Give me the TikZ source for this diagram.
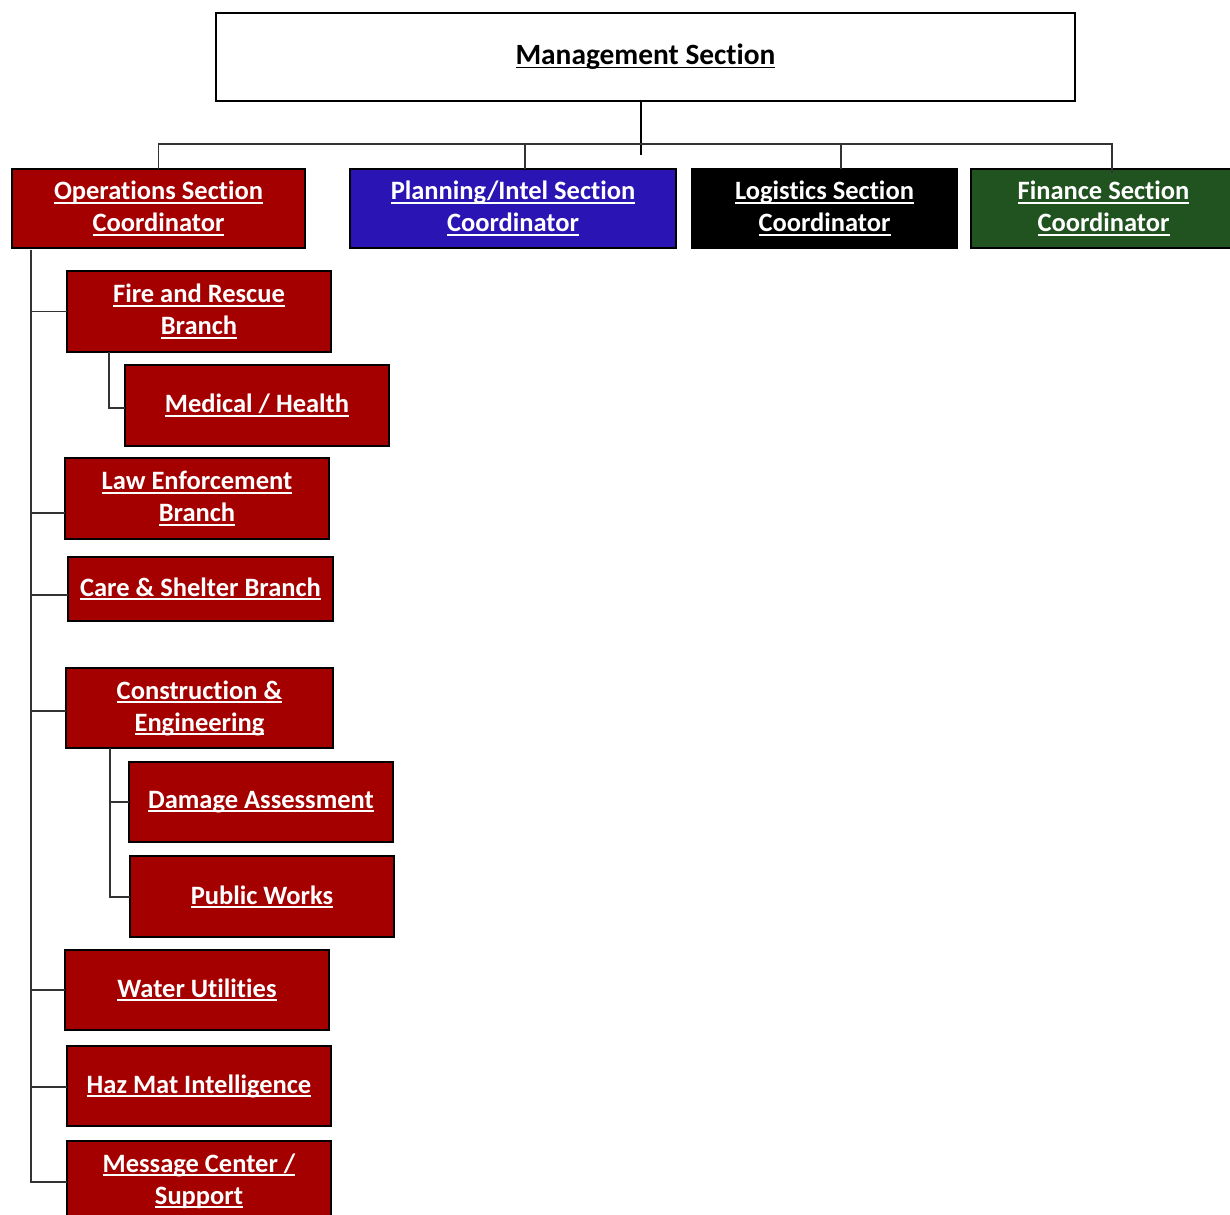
\documentclass[tikz,border=0pt]{standalone}
\usepackage{fontspec}
\setmainfont{Carlito}[Ligatures=NoCommon]
% underline drawn as a rule under the word box
\newcommand\ulx[1]{\setbox0=\hbox{#1}\rlap{\rule[-3.6pt]{\wd0}{1.8pt}}\box0}
\definecolor{opsred}{HTML}{A50000}
\definecolor{planblue}{HTML}{2A14B4}
\definecolor{fingreen}{HTML}{20531F}
\tikzset{
  unit/.style={draw=black, line width=1.7pt, text=white,
    font=\bfseries\fontsize{26.5}{32}\selectfont, align=center,
    inner sep=0pt, outer sep=0pt},
  link/.style={draw=black!80, line width=1.3pt},
}
% \unitbox{name}{x1}{y1}{x2}{y2}{fill}{text}
\newcommand\unitbox[7]{%
  \node[unit, fill=#6, minimum width={#4-#2}, minimum height={#5-#3}]
    (#1) at ({(#2+#4)/2},{(#3+#5)/2}) {#7};}
\begin{document}
\begin{tikzpicture}[x=1pt,y=-1pt]
\useasboundingbox (0,0) rectangle (1230,1214);
\clip (0,0) rectangle (1230,1214);

% top level
\node[unit, fill=white, text=black, font=\bfseries\fontsize{29.4}{32}\selectfont,
  minimum width=859, minimum height=88] (mgmt) at (645.5,57) {\ulx{Management Section}};

% sections
\unitbox{ops}{12}{169}{305}{248}{opsred}{\ulx{Operations Section}\\\ulx{Coordinator}}
\unitbox{plan}{350}{169}{676}{248}{planblue}{\ulx{Planning/Intel Section}\\\ulx{Coordinator}}
\unitbox{logi}{692}{169}{957}{248}{black}{\ulx{Logistics Section}\\\ulx{Coordinator}}
\unitbox{fin}{971}{169}{1236}{248}{fingreen}{\ulx{Finance Section}\\\ulx{Coordinator}}

% operations branches
\unitbox{fire}{67}{271}{331}{352}{opsred}{\ulx{Fire and Rescue}\\\ulx{Branch}}
\unitbox{med}{125}{365}{389}{446}{opsred}{\ulx{Medical / Health}}
\unitbox{law}{65}{458}{329}{539}{opsred}{\ulx{Law Enforcement}\\\ulx{Branch}}
\unitbox{care}{68}{557}{333}{621}{opsred}{\ulx{Care \& Shelter Branch}}
\unitbox{cons}{66}{668}{333}{748}{opsred}{\ulx{Construction \&}\\\ulx{Engineering}}
\unitbox{dmg}{129}{762}{393}{842}{opsred}{\ulx{Damage Assessment}}
\unitbox{pw}{130}{856}{394}{937}{opsred}{\ulx{Public Works}}
\unitbox{water}{65}{950}{329}{1030}{opsred}{\ulx{Water Utilities}}
\unitbox{haz}{67}{1046}{331}{1126}{opsred}{\ulx{Haz Mat Intelligence}}
\unitbox{msg}{67}{1141}{331}{1221}{opsred}{\ulx{Message Center /}\\\ulx{Support}}

% management stub and section bus
\draw[line width=2pt] ([xshift=-4.5pt]mgmt.south) coordinate (stub) -- ++(0,54);
\coordinate (busL) at (158.5,144);
\coordinate (busR) at (1112,144);
\draw[link] (ops.north) -- (busL) -- (busR) -- ++(0,29);
\draw[link] (525,144) coordinate (dplan) -- (dplan |- plan.north);
\draw[link] (841,144) coordinate (dlogi) -- (dlogi |- logi.north);

% operations trunk
\coordinate (trunk) at (31,250);
\draw[link] (trunk) |- ([yshift=-1pt]msg.west);
\draw[link] (trunk) |- (fire.west);
\draw[link] (trunk) |- ([yshift=-14.5pt]law.west);
\draw[link] (trunk) |- ([yshift=-6pt]care.west);
\draw[link] (trunk) |- ([yshift=-3pt]cons.west);
\draw[link] (trunk) |- (water.west);
\draw[link] (trunk) |- ([yshift=-1pt]haz.west);

% sub-branches
\draw[link] (109,352) coordinate (fsub) |- ([yshift=-2.5pt]med.west);
\draw[link] (110,748) coordinate (csub) |- (dmg.west);
\draw[link] (csub) |- ([yshift=-0.5pt]pw.west);
\end{tikzpicture}
\end{document}
